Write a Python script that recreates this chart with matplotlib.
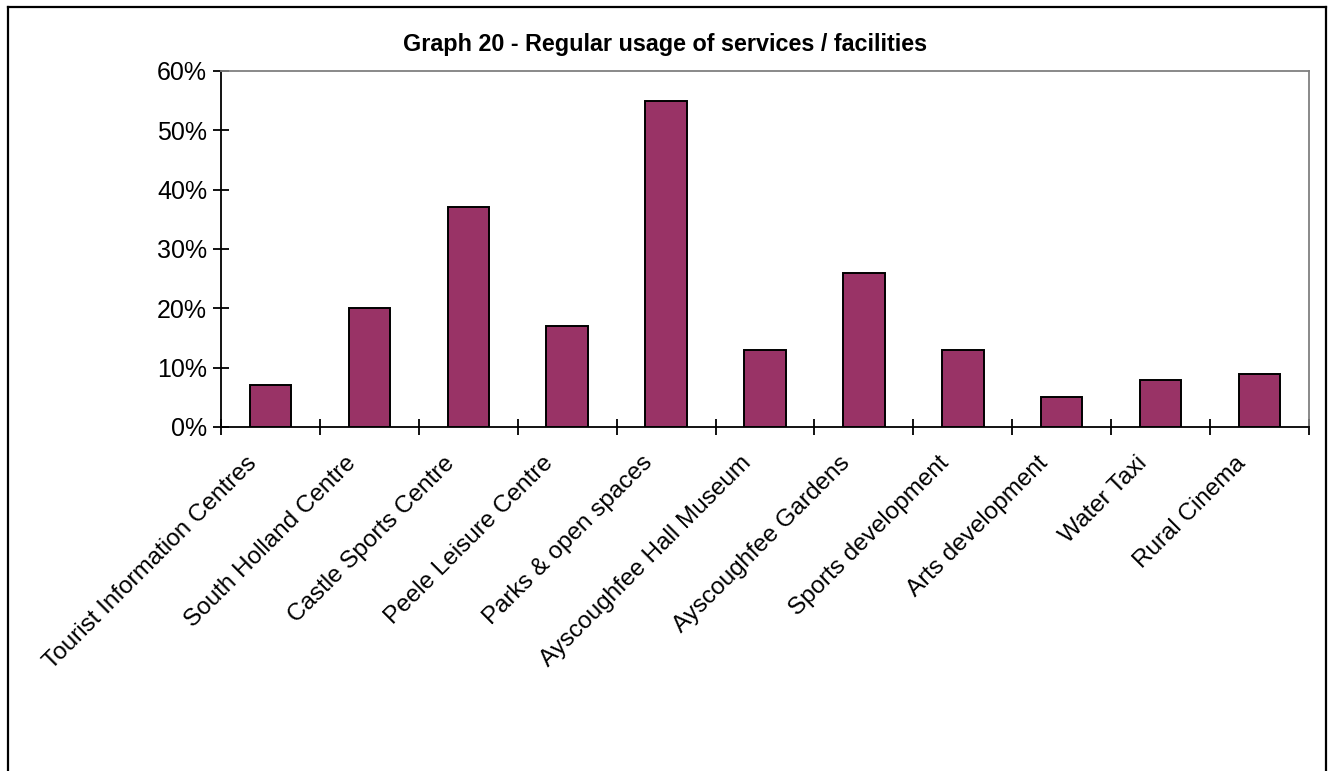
import matplotlib.pyplot as plt
from matplotlib.lines import Line2D
from matplotlib.ticker import FuncFormatter
from matplotlib.transforms import blended_transform_factory, ScaledTranslation
import numpy as np

plt.rcParams['font.family'] = ['Liberation Sans', 'DejaVu Sans']

categories = [
    "Tourist Information Centres", "South Holland Centre", "Castle Sports Centre",
    "Peele Leisure Centre", "Parks & open spaces", "Ayscoughfee Hall Museum",
    "Ayscoughfee Gardens", "Sports development", "Arts development",
    "Water Taxi", "Rural Cinema",
]
usage = [0.07, 0.20, 0.37, 0.17, 0.55, 0.13, 0.26, 0.13, 0.05, 0.08, 0.09]
y_ticks = [0.0, 0.1, 0.2, 0.3, 0.4, 0.5, 0.6]

W, H = 1330, 771
fig = plt.figure(figsize=(W / 100, H / 100), dpi=100)

# outer chart frame (open at the bottom)
x0, x1 = 7.5 / W, 1325.5 / W
ytop = 1 - 6.5 / H
for xs, ys in [([x0, x1], [ytop, ytop]), ([x0, x0], [ytop, -0.01]), ([x1, x1], [ytop, -0.01])]:
    fig.add_artist(Line2D(xs, ys, transform=fig.transFigure, color='black', lw=1.6))

ax = fig.add_axes([221 / W, 1 - 427 / H, (1309 - 221) / W, (427 - 71) / H])

x = np.arange(len(categories))
ax.bar(x, usage, width=0.42, color='#993366', edgecolor='black', linewidth=1.4, zorder=3)

ax.set_xlim(-0.5, len(categories) - 0.5)
ax.set_ylim(0, 0.6)
ax.set_yticks(y_ticks)
ax.yaxis.set_major_formatter(FuncFormatter(lambda v, p: f"{v * 100:.0f}%"))
ax.tick_params(axis='y', direction='inout', length=12, width=1.3, labelsize=18, pad=4)

# category boundaries carry the ticks; names are placed at the centres
ax.set_xticks(np.arange(-0.5, len(categories)))
ax.set_xticklabels([])
ax.tick_params(axis='x', direction='inout', length=12, width=1.3)

label_tf = blended_transform_factory(ax.transData, ax.transAxes) + \
    ScaledTranslation(-25 / 100, -25 / 100, fig.dpi_scale_trans)
for xi, name in zip(x, categories):
    ax.text(xi, 0, name, transform=label_tf, rotation=45, rotation_mode='anchor',
            ha='right', va='top', fontsize=17.5)

for side in ['top', 'right']:
    ax.spines[side].set_color('#808080')
    ax.spines[side].set_linewidth(1.3)
for side in ['left', 'bottom']:
    ax.spines[side].set_color('black')
    ax.spines[side].set_linewidth(1.3)

fig.text(0.5, 1 - 44 / H, "Graph 20 - Regular usage of services / facilities",
         ha='center', va='center', fontsize=16.8, fontweight='bold')

fig.savefig('out.png', dpi=100)
